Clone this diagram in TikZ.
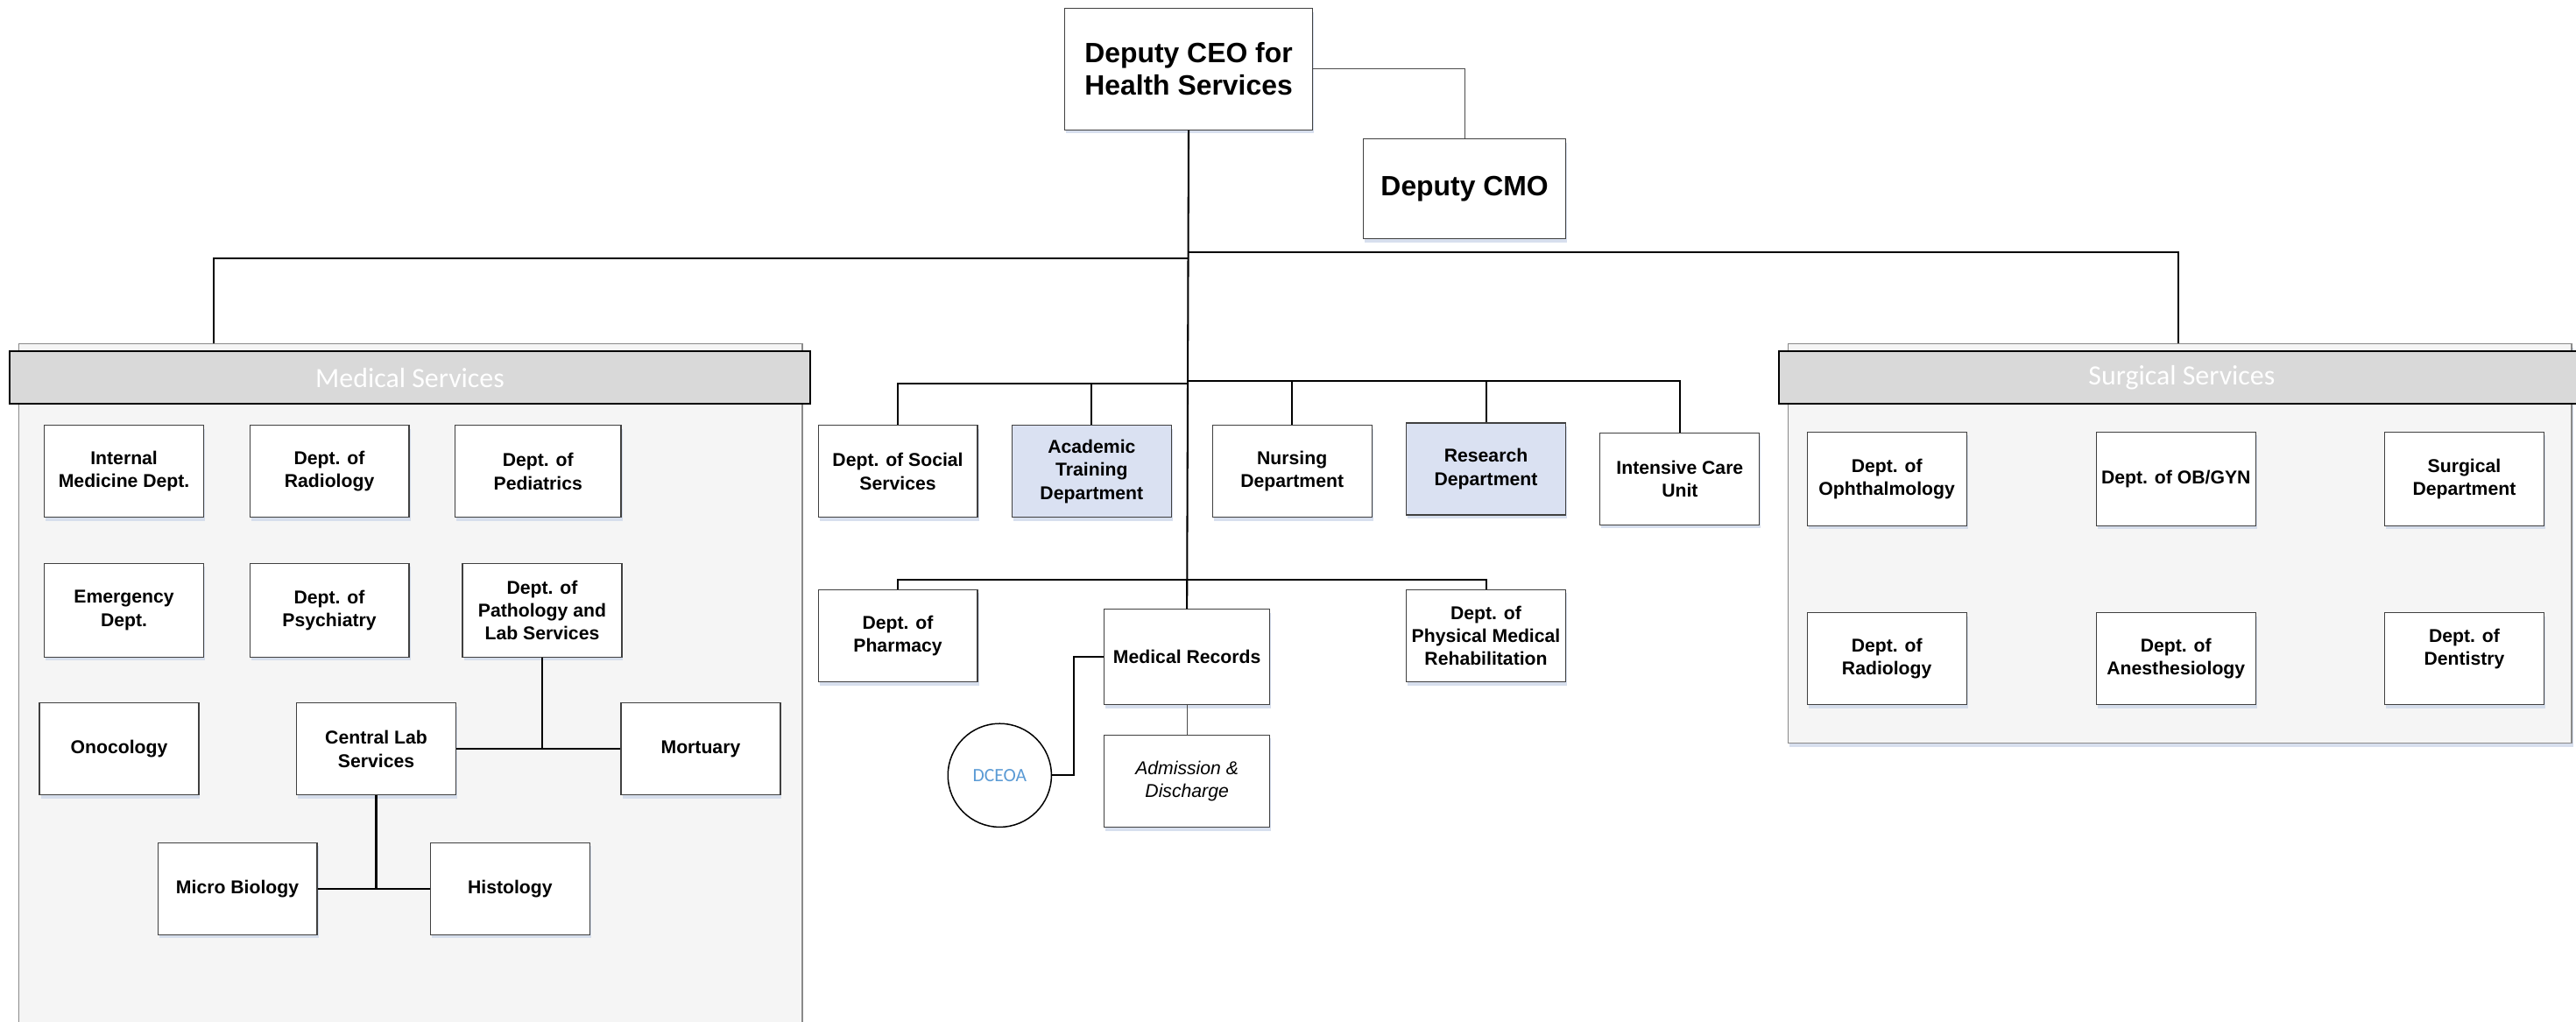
\documentclass[tikz,border=0pt]{standalone}
\usepackage{fontspec}
\setmainfont{Liberation Sans}
\newfontfamily\hdrfont{Carlito}
\usetikzlibrary{shadows}

\definecolor{panelfill}{HTML}{F5F5F5}
\definecolor{panelline}{HTML}{8A8A8A}
\definecolor{headfill}{HTML}{D9D9D9}
\definecolor{unitblue}{HTML}{DAE1F2}
\definecolor{dceoablue}{HTML}{5B9BD5}
\definecolor{shadowblue}{HTML}{D3DCEC}

\begin{document}
\begin{tikzpicture}[x=1pt, y=-1pt,
    unit/.style={draw=black!75, line width=0.6pt, fill=white, minimum width=97pt, minimum height=56pt,
        inner sep=1pt, align=center, font=\bfseries\fontsize{11.3}{14}\selectfont,
        drop shadow={shadow xshift=0.8pt, shadow yshift=-2.2pt, fill=shadowblue, opacity=0.9}},
    hiunit/.style={unit, fill=unitblue},
    boss/.style={unit, font=\bfseries\fontsize{17}{19.5}\selectfont},
    panel/.style={draw=panelline, line width=0.7pt, fill=panelfill, anchor=north west, inner sep=0pt,
        drop shadow={shadow xshift=0.8pt, shadow yshift=-2.2pt, fill=shadowblue, opacity=0.9}},
    header/.style={draw=black, line width=1pt, fill=headfill, text=white, minimum height=32pt,
        inner sep=0pt, font=\hdrfont\fontsize{17}{20}\selectfont},
    link/.style={line width=1.1pt},
    thinlink/.style={draw=black!70, line width=0.5pt},
    badge/.style={circle, draw=black, line width=0.8pt, fill=white, minimum size=63pt, inner sep=0pt,
        text=dceoablue, font=\hdrfont\fontsize{11.5}{14}\selectfont}
  ]
  \useasboundingbox (0,0) rectangle (1568,622);

  % top
  \node[boss, minimum width=151pt, minimum height=74pt] (ceo) at (723.5,42) {Deputy CEO for\\Health Services};
  \node[boss, minimum width=123pt, minimum height=61pt] (cmo) at (891.5,115) {Deputy CMO};

  % medical services
  \node[panel, minimum width=477pt, minimum height=413pt] (medpanel) at (11,209) {};
  \node[header, minimum width=487pt] (medhead) at (249.5,230) {Medical Services};
  \node[unit] (intmed) at (75.5,287) {Internal\\Medicine Dept.};
  \node[unit] (radio) at (200.5,287) {Dept. of\\Radiology};
  \node[unit, minimum width=101pt] (pedia) at (327.5,287) {Dept. of\\Pediatrics};
  \node[unit, minimum height=57pt] (emerg) at (75.5,371.5) {Emergency\\Dept.};
  \node[unit, minimum height=57pt] (psych) at (200.5,371.5) {Dept. of\\Psychiatry};
  \node[unit, minimum height=57pt] (patho) at (330,371.5) {Dept. of\\Pathology and\\Lab Services};
  \node[unit] (onco) at (72.5,456) {Onocology};
  \node[unit] (cenlab) at (229,456) {Central Lab\\Services};
  \node[unit] (mort) at (426.5,456) {Mortuary};
  \node[unit] (micro) at (144.5,541) {Micro Biology};
  \node[unit] (histo) at (310.5,541) {Histology};

  % surgical services
  \node[panel, minimum width=477pt, minimum height=243pt] (surpanel) at (1088,209) {};
  \node[header, minimum width=490pt] (surhead) at (1328,230) {Surgical Services};
  \node[unit, minimum height=57pt] (oph) at (1148.5,291.5) {Dept. of\\Ophthalmology};
  \node[unit, minimum height=57pt] (obgyn) at (1324.5,291.5) {Dept. of OB/GYN};
  \node[unit, minimum height=57pt] (surg) at (1500,291.5) {Surgical\\Department};
  \node[unit] (srad) at (1148.5,401) {Dept. of\\Radiology};
  \node[unit] (anes) at (1324.5,401) {Dept. of\\Anesthesiology};
  \node[unit] (dent) at (1500,401) {Dept. of\\Dentistry\\[0pt]};

  % departments under the deputy
  \node[unit] (social) at (546.5,287) {Dept. of Social\\Services};
  \node[hiunit] (acad) at (664.5,287) {Academic\\Training\\Department};
  \node[unit] (nurse) at (786.5,287) {Nursing\\Department};
  \node[hiunit] (research) at (904.5,285.5) {Research\\Department};
  \node[unit] (icu) at (1022.5,291.5) {Intensive Care\\Unit};
  \node[unit] (pharm) at (546.5,387) {Dept. of\\Pharmacy};
  \node[unit, minimum width=101pt, minimum height=58pt] (mrec) at (722.5,400) {Medical Records};
  \node[unit] (rehab) at (904.5,387) {Dept. of\\Physical Medical\\Rehabilitation};
  \node[unit, minimum width=101pt, font=\itshape\fontsize{11.3}{14}\selectfont] (adm) at (722.5,475.5) {Admission \&\\Discharge};
  \node[badge] (dceoa) at (608.5,472) {DCEOA};

  \coordinate (medtop) at (130,209);
  \coordinate (surtop) at (1326,209);
  \coordinate (jmed) at (723,157.5);
  \coordinate (jsur) at (723,153.5);
  \coordinate (jleft) at (723,233.5);
  \coordinate (jright) at (723,232);
  \coordinate (jlow) at (723,353);

  % connectors
  \draw[thinlink] (ceo.east) -| (cmo.north);
  \draw[link] (ceo.south) -- (mrec.north);
  \draw[link] (jmed) -| (medtop);
  \draw[link] (jsur) -| (surtop);
  \draw[link] (jleft) -| (social.north);
  \draw[link] (jleft) -| (acad.north);
  \draw[link] (jright) -| (nurse.north);
  \draw[link] (jright) -| (research.north);
  \draw[link] (jright) -| (icu.north);
  \draw[link] (jlow) -| (pharm.north);
  \draw[link] (jlow) -| (rehab.north);
  \draw[thinlink] (mrec.south) -- (adm.north);
  \draw[link] (dceoa.east) -- ++(13,0) |- (mrec.west);
  \draw[link] (cenlab.east) -- (mort.west);
  \draw[link] (patho.south) -- (patho.south |- cenlab.east);
  \draw[link] (micro.east) -- (histo.west);
  \draw[link] (cenlab.south) -- (cenlab.south |- micro.east);
\end{tikzpicture}
\end{document}
